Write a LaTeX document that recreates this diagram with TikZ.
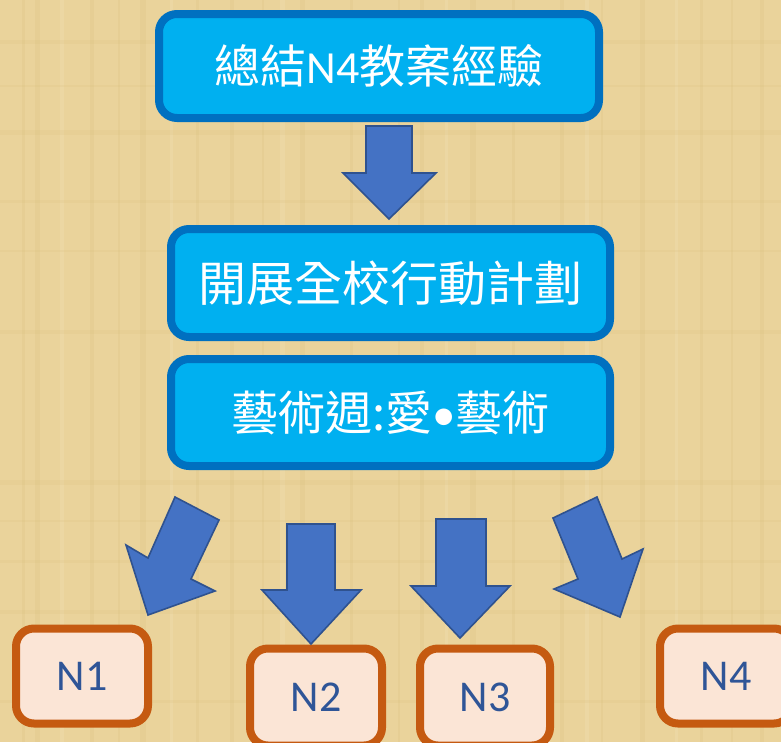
\documentclass[tikz,border=0pt]{standalone}
\usepackage{fontspec}
\setmainfont{Carlito}
\newfontfamily\cjk{Noto Sans CJK TC}
\definecolor{parch}{RGB}{234,211,155}
\definecolor{parchdark}{RGB}{218,190,125}
\definecolor{parchlight}{RGB}{242,224,180}
\definecolor{boxfill}{RGB}{0,176,240}
\definecolor{boxedge}{RGB}{0,112,192}
\definecolor{nfill}{RGB}{251,229,214}
\definecolor{nedge}{RGB}{197,90,17}
\definecolor{ntext}{RGB}{47,85,151}
\definecolor{arrfill}{RGB}{68,114,196}
\definecolor{arredge}{RGB}{47,82,143}
\tikzset{
  bluebox/.style={draw=boxedge, fill=boxfill, line width=8pt, rounded corners=18pt,
    text=white, inner sep=0pt, align=center},
  nbox/.style={draw=nedge, fill=nfill, line width=8pt, rounded corners=18pt,
    text=ntext, inner sep=0pt, minimum width=132pt, minimum height=95pt,
    font=\fontsize{44}{48}\selectfont},
  blockarrow/.style={fill=arrfill, draw=arredge, line width=1.6pt, line join=miter}
}
\begin{document}
\begin{tikzpicture}[x=1pt, y=-1pt]
\useasboundingbox (0,0) rectangle (781,742);
\clip (0,0) rectangle (781,742);
\fill[parch] (0,0) rectangle (781,742);
% faint parchment texture
\foreach \xx/\ww in {22/3,35/5,90/4,118/2,140/6,196/3,230/4,262/2,300/5,350/3,398/2,420/4,470/6,512/3,560/4,601/2,640/5,700/3,731/2,760/4}{
  \fill[parchdark, opacity=0.22] (\xx,0) rectangle (\xx+\ww,742);
}
\foreach \xx/\ww in {60/4,170/3,280/5,445/3,585/4,675/3}{
  \fill[parchlight, opacity=0.35] (\xx,0) rectangle (\xx+\ww,742);
}
\foreach \yy/\hh in {40/4,85/2,130/5,200/3,250/2,330/4,480/5,520/2,560/3,610/4,700/3}{
  \fill[parchdark, opacity=0.18] (0,\yy) rectangle (781,\yy+\hh);
}

% main boxes
\node[bluebox, minimum width=440pt, minimum height=104pt,
  font=\fontsize{46}{50}\selectfont] (top) at (379,66) {{\cjk 總結}N4{\cjk 教案經驗}};
\node[bluebox, minimum width=439pt, minimum height=108pt,
  font=\cjk\fontsize{48}{52}\selectfont] (plan) at (390.5,283) {開展全校行動計劃};
\node[bluebox, minimum width=439pt, minimum height=107pt,
  font=\fontsize{47}{50}\selectfont] (week) at (390.5,412.5) {{\cjk 藝術週:愛}•{\cjk 藝術}};

% bottom boxes
\node[nbox] (n1) at (82,676) {N1};
\node[nbox, minimum height=97pt] (n2) at (316,697) {N2};
\node[nbox, minimum width=130pt, minimum height=97pt] (n3) at (485,697) {N3};
\node[nbox] (n4) at (726,676) {N4};

% block arrows
\draw[blockarrow] (366,126) -- (412,126) -- (412,173) -- (436,173) -- (389,219)
  -- (343,173) -- (366,173) -- cycle;
\draw[blockarrow] (175,497) -- (219,520) -- (191,579) -- (215,591) -- (148,615)
  -- (126,545) -- (148,558) -- cycle;
\draw[blockarrow] (287,524) -- (335,524) -- (335,590) -- (361,590) -- (311,644)
  -- (262,590) -- (287,590) -- cycle;
\draw[blockarrow] (436,519) -- (486,519) -- (486,586) -- (510,586) -- (460,638)
  -- (411,586) -- (436,586) -- cycle;
\draw[blockarrow] (553,518) -- (597,497) -- (622,559) -- (643,549) -- (620,617)
  -- (554,589) -- (578,579) -- cycle;
\end{tikzpicture}
\end{document}
